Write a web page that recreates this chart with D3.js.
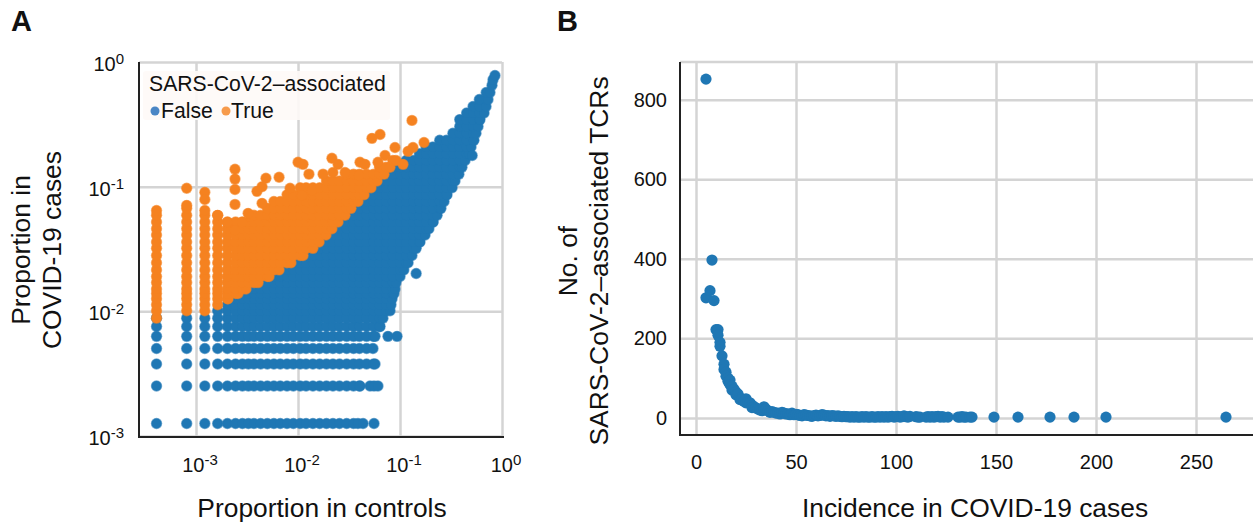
<!DOCTYPE html>
<html>
	<head>
		<title>SARS-CoV-2 associated TCRs</title>
		<style>
			body, html { margin: 0; background: #fff; }
			svg { display: block; }
			text { font-family: "Liberation Sans", Arial, sans-serif; fill: #111; }
			.grid line { stroke: #d4d4d4; stroke-width: 2.5px; }
			.spine { stroke: #222; stroke-width: 2px; }
		</style>
	</head>
	<body>
		<svg id="svg" width="1253" height="527"></svg>

		<script src="https://d3js.org/d3.v7.min.js"></script>
		<script>
			const controlLevels = [0.00041, 0.00081, 0.00122, 0.00163, 0.00203, 0.00244, 0.00285, 0.00326, 0.0037, 0.0043, 0.005, 0.0058, 0.0067, 0.0078, 0.009, 0.0105, 0.012, 0.014, 0.0163, 0.019, 0.022, 0.0255, 0.03, 0.035, 0.04, 0.047, 0.055, 0.063, 0.073, 0.085, 0.1, 0.115, 0.135, 0.155, 0.18, 0.21, 0.245, 0.285, 0.33, 0.385, 0.45, 0.52, 0.6, 0.7, 0.8, 0.89]

			const caseLevels = [0.00126, 0.00252, 0.00378, 0.00504, 0.0063, 0.00756, 0.00882, 0.0101, 0.0113, 0.0126, 0.0139, 0.0151, 0.017, 0.019, 0.0215, 0.0245, 0.028, 0.032, 0.036, 0.041, 0.046, 0.052, 0.059, 0.067, 0.076, 0.086, 0.098, 0.111, 0.126, 0.143, 0.162, 0.184, 0.208, 0.236, 0.268, 0.304, 0.345, 0.39, 0.44, 0.5, 0.57, 0.65, 0.72, 0.78]

			// where each row of caseLevels starts and stops, not associated
			const falseFrom = [0.00041, 0.00041, 0.00041, 0.00041, 0.00041, 0.00041, 0.00041, 0.00163, 0.00164, 0.00206, 0.00258, 0.00309, 0.00406, 0.0052, 0.00652, 0.00853, 0.0112, 0.014, 0.0161, 0.0188, 0.0215, 0.0247, 0.0289, 0.0331, 0.0387, 0.0444, 0.052, 0.0596, 0.0697, 0.0798, 0.112, 0.14, 0.176, 0.225, 0.316, 0.338, 0.354, 0.434, 0.508, 0.569, 0.667, 0.746, 0.816, 0.853]
			const falseTo = [0.0387, 0.0405, 0.0569, 0.0543, 0.0569, 0.0637, 0.068, 0.0798, 0.0816, 0.0836, 0.0873, 0.0893, 0.0914, 0.1, 0.109, 0.12, 0.131, 0.144, 0.157, 0.176, 0.192, 0.211, 0.231, 0.252, 0.27, 0.289, 0.324, 0.346, 0.378, 0.405, 0.434, 0.474, 0.497, 0.531, 0.556, 0.582, 0.608, 0.667, 0.697, 0.729, 0.762, 0.798, 0.816, 0.853]

			// same rows, associated (starts at caseLevels[9] = 0.0126, stops at 0.162)
			const trueFrom = [0.00203, 0.00203, 0.00203, 0.00203, 0.00203, 0.00203, 0.00203, 0.00203, 0.00203, 0.00203, 0.00203, 0.00203, 0.00203, 0.00338, 0.00444, 0.00508, 0.00697, 0.0105, 0.0184, 0.0289, 0.0569, 0.0798]
			const trueTo = [0.00206, 0.00258, 0.00309, 0.00406, 0.0052, 0.00652, 0.00853, 0.0112, 0.014, 0.0161, 0.0188, 0.0215, 0.0247, 0.0289, 0.0331, 0.0387, 0.0444, 0.052, 0.0596, 0.0697, 0.0798, 0.0914]

			// the separate columns on the far left
			const columnX = [0.00041, 0.00081, 0.00122, 0.00163]
			const columnBottom = [0.00882, 0.0101, 0.0101, 0.0113]
			const columnTop = [0.0645, 0.0708, 0.0645, 0.0589]

			// stragglers outside the main cloud
			const falseExtraX = [0.0434, 0.0556, 0.0508, 0.0556, 0.0608, 0.0762, 0.0935, 0.144, 0.51]
			const falseExtraY = [0.00126, 0.00126, 0.00252, 0.00252, 0.00252, 0.0063, 0.0063, 0.0201, 0.178]
			const trueExtraX = [0.131, 0.172, 0.134, 0.12, 0.0893, 0.0637, 0.0531, 0.0713, 0.107, 0.0608, 0.0405, 0.0454, 0.0215, 0.0247, 0.0128, 0.0176, 0.0289, 0.022, 0.0396, 0.01, 0.0112, 0.00241, 0.00241, 0.00241, 0.00241, 0.00652, 0.00485, 0.00444, 0.00396, 0.00836, 0.00081, 0.00122, 0.00122, 0.00444, 0.0109, 0.0137, 0.00324, 0.00283, 0.00241, 0.00203, 0.00163]
			const trueExtraY = [0.34, 0.226, 0.206, 0.192, 0.206, 0.262, 0.244, 0.178, 0.151, 0.157, 0.157, 0.151, 0.169, 0.151, 0.126, 0.126, 0.13, 0.13, 0.123, 0.157, 0.151, 0.138, 0.115, 0.095, 0.0721, 0.119, 0.117, 0.1, 0.0917, 0.097, 0.097, 0.09, 0.079, 0.0735, 0.0851, 0.0933, 0.0611, 0.0518, 0.0447, 0.0518, 0.0589]

			const logTicks = [0.001, 0.01, 0.1, 1]
			const logTickPowers = ['-3', '-2', '-1', '0']

			// Panel B
			const incidence = [5, 5, 7, 8, 9, 10, 11, 11, 12, 12, 13, 14, 14, 15, 15, 16, 16, 17, 17, 18, 18, 19, 20, 20, 21, 22, 22, 23, 24, 25, 25, 26, 27, 28, 28, 29, 30, 31, 32, 33, 34, 34, 35, 36, 37, 38, 39, 40, 41, 42, 43, 44, 45, 46, 47, 48, 49, 50, 51, 52, 53, 54, 55, 56, 57, 58, 59, 60, 61, 62, 63, 64, 65, 66, 67, 68, 69, 70, 71, 72, 73, 74, 75, 76, 77, 78, 79, 80, 81, 82, 83, 84, 85, 86, 87, 88, 89, 90, 91, 92, 93, 94, 95, 96, 97, 98, 99, 100, 101, 102, 103, 104, 105, 106, 107, 110, 111, 112, 115, 116, 117, 118, 119, 120, 121, 122, 123, 124, 126, 131, 132, 133, 134, 135, 137, 138, 149, 161, 177, 189, 205, 265]
			const tcrCounts = [852, 302, 320, 397, 295, 222, 222, 208, 190, 180, 156, 135, 122, 115, 105, 100, 92, 95, 84, 80, 70, 72, 65, 58, 60, 50, 46, 48, 42, 48, 38, 40, 38, 32, 26, 28, 25, 22, 20, 18, 28, 20, 22, 18, 14, 16, 14, 12, 12, 10, 14, 12, 10, 10, 8, 12, 8, 9, 8, 6, 5, 8, 7, 6, 5, 4, 6, 7, 5, 6, 8, 7, 5, 6, 4, 6, 5, 4, 5, 4, 3, 4, 3, 3, 2, 3, 2, 3, 2, 2, 3, 2, 3, 2, 2, 3, 2, 2, 3, 2, 3, 2, 3, 2, 3, 4, 2, 3, 4, 2, 3, 5, 3, 2, 4, 3, 2, 2, 2, 3, 2, 3, 2, 3, 4, 2, 3, 2, 2, 2, 2, 3, 2, 2, 2, 2, 2, 2, 2, 2, 2, 2]
			const xTicksB = [0, 50, 100, 150, 200, 250]
			const yTicksB = [0, 200, 400, 600, 800]

			const svg = d3.select('#svg')

			// ---- Panel A ----
			const xA = d3.scaleLog().domain([0.000276, 1]).range([139, 502])
			const yA = d3.scaleLog().domain([0.001, 1]).range([436, 62])

			function rowPoints(from, to, y) {
				const xs = controlLevels.filter(x => x >= from && x < to)
				xs.push(to)
				return xs.map(x => ({ x, y }))
			}

			let falsePoints = []
			caseLevels.forEach((y, i) => {
				falsePoints = falsePoints.concat(rowPoints(falseFrom[i], falseTo[i], y))
			})
			falseExtraX.forEach((x, i) => falsePoints.push({ x, y: falseExtraY[i] }))

			let truePoints = []
			trueFrom.forEach((from, i) => {
				truePoints = truePoints.concat(rowPoints(from, trueTo[i], caseLevels[i + 9]))
			})
			columnX.forEach((x, i) => {
				caseLevels.filter(y => y >= columnBottom[i] && y < columnTop[i])
					.forEach(y => truePoints.push({ x, y }))
				truePoints.push({ x, y: columnTop[i] })
			})
			trueExtraX.forEach((x, i) => truePoints.push({ x, y: trueExtraY[i] }))

			const gA = svg.append('g')

			// grid comes from the axes, labels get their superscripts after
			const gridAx = gA.append('g').attr('class', 'grid')
				.attr('transform', 'translate(0,437)')
				.call(d3.axisBottom(xA).tickValues(logTicks).tickSize(-375).tickFormat(''))
			const gridAy = gA.append('g').attr('class', 'grid')
				.attr('transform', 'translate(139,0)')
				.call(d3.axisLeft(yA).tickValues(logTicks).tickSize(-363).tickFormat(''))
			gridAx.select('.domain').remove()
			gridAy.select('.domain').remove()

			// a pale rim under a solid core, so the cloud closes up but lone dots keep their edge
			function drawDots(points, colour) {
				gA.append('g').selectAll('circle')
					.data(points)
					.enter().append('circle')
					.attr('cx', d => xA(d.x))
					.attr('cy', d => yA(d.y))
					.attr('r', 5.7)
					.style('fill', colour)
					.style('fill-opacity', 0.6)
				gA.append('g').selectAll('circle')
					.data(points)
					.enter().append('circle')
					.attr('cx', d => xA(d.x))
					.attr('cy', d => yA(d.y))
					.attr('r', 5)
					.style('fill', colour)
			}
			drawDots(falsePoints, '#1f77b4')
			drawDots(truePoints, '#f58220')

			gA.append('line').attr('class', 'spine').attr('x1', 139).attr('x2', 139).attr('y1', 62).attr('y2', 438)
			gA.append('line').attr('class', 'spine').attr('x1', 138).attr('x2', 504).attr('y1', 437).attr('y2', 437)

			function powerLabel(sel, power) {
				sel.append('tspan').text('10')
				sel.append('tspan').text(power).attr('dy', '-0.45em').style('font-size', '15px')
			}

			logTicks.forEach((t, i) => {
				gA.append('text')
					.attr('x', xA(t) + 4).attr('y', 472)
					.style('font-size', '20px').attr('text-anchor', 'middle')
					.call(powerLabel, logTickPowers[i])
				gA.append('text')
					.attr('x', 124).attr('y', yA(t) + 9)
					.style('font-size', '20px').attr('text-anchor', 'end')
					.call(powerLabel, logTickPowers[i])
			})

			gA.append('text').text('Proportion in controls')
				.attr('x', 322).attr('y', 517).attr('text-anchor', 'middle').style('font-size', '26.4px')
			gA.append('text').text('Proportion in')
				.attr('transform', 'translate(30,250) rotate(-90)').attr('text-anchor', 'middle').style('font-size', '26.4px')
			gA.append('text').text('COVID-19 cases')
				.attr('transform', 'translate(61,250) rotate(-90)').attr('text-anchor', 'middle').style('font-size', '26.4px')
			svg.append('text').text('A')
				.attr('x', 11).attr('y', 31).style('font-size', '29px').style('font-weight', 'bold')

			// legend
			gA.append('rect').attr('x', 143).attr('y', 71).attr('width', 247).attr('height', 49).attr('rx', 3)
				.style('fill', '#fff').style('fill-opacity', 0.8)
			gA.append('rect').attr('x', 143).attr('y', 71).attr('width', 247).attr('height', 49).attr('rx', 3)
				.style('fill', '#fdf5f2').style('fill-opacity', 0.5)
			gA.append('text').text('SARS-CoV-2\u2013associated')
				.attr('x', 149).attr('y', 91).style('font-size', '21.2px')
			gA.append('circle').attr('cx', 155).attr('cy', 111).attr('r', 4.5).style('fill', '#4a86c5')
			gA.append('text').text('False').attr('x', 161).attr('y', 118).style('font-size', '21.2px')
			gA.append('circle').attr('cx', 226).attr('cy', 111).attr('r', 4.5).style('fill', '#f79a4a')
			gA.append('text').text('True').attr('x', 231).attr('y', 118).style('font-size', '21.2px')

			// ---- Panel B ----
			const xB = d3.scaleLinear().domain([-8, 278.5]).range([680, 1253])
			const yB = d3.scaleLinear().domain([-43, 895]).range([435, 62])

			const gB = svg.append('g')

			const gridBx = gB.append('g').attr('class', 'grid')
				.attr('transform', 'translate(0,435)')
				.call(d3.axisBottom(xB).tickValues(xTicksB).tickSize(-373).tickPadding(20))
			const gridBy = gB.append('g').attr('class', 'grid')
				.attr('transform', 'translate(680,0)')
				.call(d3.axisLeft(yB).tickValues(yTicksB).tickSize(-573).tickPadding(13))
			gridBx.select('.domain').remove()
			gridBy.select('.domain').remove()
			gB.selectAll('.tick text').style('font-size', '20px').style('font-family', '"Liberation Sans", Arial, sans-serif')

			gB.append('line').attr('class', 'spine').attr('x1', 680).attr('x2', 1253).attr('y1', 62).attr('y2', 62)
				.style('stroke', '#d4d4d4').style('stroke-width', '2.5px')

			gB.append('g').selectAll('circle')
				.data(incidence.map((x, i) => ({ x, y: tcrCounts[i] })))
				.enter().append('circle')
				.attr('cx', d => xB(d.x))
				.attr('cy', d => yB(d.y))
				.attr('r', 5.6)
				.style('fill', '#1f77b4')

			gB.append('line').attr('class', 'spine').attr('x1', 680).attr('x2', 680).attr('y1', 62).attr('y2', 436)
			gB.append('line').attr('class', 'spine').attr('x1', 679).attr('x2', 1253).attr('y1', 435).attr('y2', 435)

			gB.append('text').text('Incidence in COVID-19 cases')
				.attr('x', 975).attr('y', 517).attr('text-anchor', 'middle').style('font-size', '26.4px')
			gB.append('text').text('No. of')
				.attr('transform', 'translate(577,261) rotate(-90)').attr('text-anchor', 'middle').style('font-size', '26.4px')
			gB.append('text').text('SARS-CoV-2\u2013associated TCRs')
				.attr('transform', 'translate(608,261) rotate(-90)').attr('text-anchor', 'middle').style('font-size', '26.4px')
			svg.append('text').text('B')
				.attr('x', 557).attr('y', 31).style('font-size', '29px').style('font-weight', 'bold')
		</script>
	</body>
</html>
